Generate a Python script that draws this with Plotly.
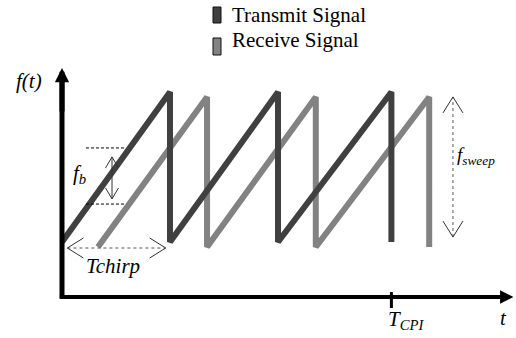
import plotly.graph_objects as go

# ---------------- data (time in chirp durations, frequency in sweep bandwidths) -------------
series_names = ["Transmit Signal", "Receive Signal"]
series_colors = ["#404040", "#828282"]
tx_t = [0.0, 1.0, 1.0, 2.0, 2.0, 3.05, 3.05]
tx_f = [0.0, 1.0, 0.0, 1.0, 0.0, 1.0, 0.0]
rx_t = [0.333, 1.343, 1.343, 2.35, 2.35, 3.40, 3.40]
rx_f = [-0.033, 0.967, -0.033, 0.967, -0.033, 0.967, -0.033]
t_cpi = 3.05
tchirp_span = [0.05, 0.96]
tchirp_level = -0.04
fb_levels = [0.627, 0.253]
fb_span = [0.222, 0.583]
fb_arrow = [0.463, 0.287, 0.567]      # t, f_low, f_high
fsweep_arrow = [3.62, 0.033, 0.967]   # t, f_low, f_high
axis_f = -0.367
yaxis_top = 1.16
xaxis_end = 4.18

# ---------------- layout constants ----------------
W, H = 516, 338
PX_T, PX_F = 108.0, 150.0      # pixels per unit
ORIGIN_PX, ORIGIN_PY = 62.0, 242.0
FONT = "Liberation Serif, Times New Roman, serif"


def px2t(px):
    return (px - ORIGIN_PX) / PX_T


def py2f(py):
    return (ORIGIN_PY - py) / PX_F


def chevron(t0, f0, direction, L, hw):
    if direction == "left":
        a = (t0 + L / PX_T, f0 + hw / PX_F)
        b = (t0 + L / PX_T, f0 - hw / PX_F)
    elif direction == "right":
        a = (t0 - L / PX_T, f0 + hw / PX_F)
        b = (t0 - L / PX_T, f0 - hw / PX_F)
    elif direction == "up":
        a = (t0 - hw / PX_T, f0 - L / PX_F)
        b = (t0 + hw / PX_T, f0 - L / PX_F)
    else:
        a = (t0 - hw / PX_T, f0 + L / PX_F)
        b = (t0 + hw / PX_T, f0 + L / PX_F)
    return [a[0], t0, b[0], None], [a[1], f0, b[1], None]


fig = go.Figure()

# signals
fig.add_trace(go.Scatter(x=rx_t, y=rx_f, mode="lines",
                         line=dict(color=series_colors[1], width=6), name=series_names[1]))
fig.add_trace(go.Scatter(x=tx_t, y=tx_f, mode="lines",
                         line=dict(color=series_colors[0], width=6), name=series_names[0]))

# axes lines
fig.add_trace(go.Scatter(x=[0, 0], y=[axis_f - 0.01, yaxis_top - 0.08], mode="lines",
                         line=dict(color="black", width=5)))
fig.add_trace(go.Scatter(x=[-0.02, xaxis_end - 0.08], y=[axis_f, axis_f], mode="lines",
                         line=dict(color="black", width=4)))
# T_CPI tick
fig.add_trace(go.Scatter(x=[t_cpi, t_cpi], y=[axis_f + 5 / PX_F, axis_f - 11 / PX_F], mode="lines",
                         line=dict(color="black", width=3)))

# Tchirp dotted line
fig.add_trace(go.Scatter(x=tchirp_span, y=[tchirp_level, tchirp_level], mode="lines",
                         line=dict(color="#555555", width=1, dash="dot")))
# fsweep dotted line
fig.add_trace(go.Scatter(x=[fsweep_arrow[0]] * 2, y=fsweep_arrow[1:], mode="lines",
                         line=dict(color="#555555", width=1, dash="dot")))
# fb dashed lines
for lv in fb_levels:
    fig.add_trace(go.Scatter(x=fb_span, y=[lv, lv], mode="lines",
                             line=dict(color="black", width=1, dash="3px,2px")))
# fb arrow shaft
fig.add_trace(go.Scatter(x=[fb_arrow[0]] * 2, y=fb_arrow[1:], mode="lines",
                         line=dict(color="#333333", width=1)))

# chevron heads
cx, cy = [], []
for args in [(tchirp_span[0], tchirp_level, "left", 16, 10),
             (tchirp_span[1], tchirp_level, "right", 16, 10),
             (fsweep_arrow[0], fsweep_arrow[2], "up", 16, 10),
             (fsweep_arrow[0], fsweep_arrow[1], "down", 16, 10),
             (fb_arrow[0], fb_arrow[2], "up", 11, 6.5),
             (fb_arrow[0], fb_arrow[1], "down", 11, 6.5)]:
    a, b = chevron(*args)
    cx += a
    cy += b
fig.add_trace(go.Scatter(x=cx, y=cy, mode="lines", line=dict(color="#333333", width=1)))

annotations = []
# axis arrowheads
annotations.append(dict(x=0, y=yaxis_top, ax=0, ay=yaxis_top - 0.3, xref="x", yref="y",
                        axref="x", ayref="y", text="", showarrow=True, arrowhead=2,
                        arrowwidth=5, arrowsize=0.57, arrowcolor="black"))
annotations.append(dict(x=xaxis_end, y=axis_f, ax=xaxis_end - 0.3, ay=axis_f, xref="x", yref="y",
                        axref="x", ayref="y", text="", showarrow=True, arrowhead=2,
                        arrowwidth=4, arrowsize=0.67, arrowcolor="black"))


def label(text, px, py, size=21, xanchor="center", italic=True):
    annotations.append(dict(x=px / W, y=1 - py / H, xref="paper", yref="paper", text=text,
                            showarrow=False, xanchor=xanchor, yanchor="middle",
                            font=dict(family=FONT, size=size, color="black",
                                      style="italic" if italic else "normal")))


label("f(t)", 29, 81)
label("Tchirp", 113, 266)
label("f<sub>b</sub>", 79, 174)
label("f<sub>sweep</sub>", 455, 156, size=19, xanchor="left")
label("T<sub>CPI</sub>", 386, 320, xanchor="left")
label("t", 503, 318)

# legend
legend_rows = [15, 40]
box_rows = [(7, 23), (38, 55)]
shapes = []
for name, col, ty, (b0, b1) in zip(series_names, series_colors, legend_rows, box_rows):
    label(name, 230, ty, xanchor="left", italic=False)
    shapes.append(dict(type="rect", xref="paper", yref="paper", x0=213 / W, x1=221 / W,
                       y0=1 - b1 / H, y1=1 - b0 / H, fillcolor=col,
                       line=dict(color="#111111", width=1)))

fig.update_layout(
    width=W, height=H, margin=dict(l=0, r=0, t=0, b=0),
    paper_bgcolor="white", plot_bgcolor="white", showlegend=False,
    font=dict(family=FONT),
    xaxis=dict(range=[px2t(0), px2t(W)], visible=False, fixedrange=True),
    yaxis=dict(range=[py2f(H), py2f(0)], visible=False, fixedrange=True),
    annotations=annotations, shapes=shapes,
)

fig.write_html("out.html")
